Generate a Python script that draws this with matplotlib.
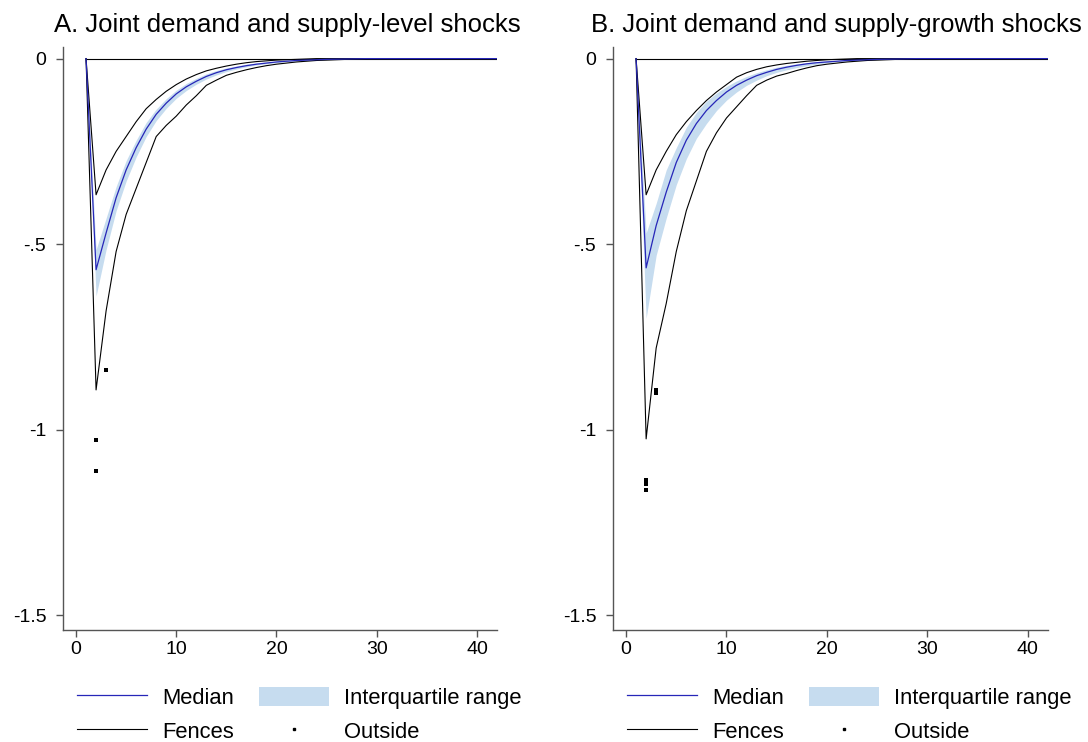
#!/usr/bin/env python3
"""Impulse responses across specifications: median, IQR band, fences and outside values."""
import numpy as np
import matplotlib.pyplot as plt
from matplotlib.patches import Patch
from matplotlib.lines import Line2D

plt.rcParams["font.family"] = ["Liberation Sans", "DejaVu Sans"]

horizon = list(range(1, 43))
zero_line = [0.0] * len(horizon)

def pad(vals):
    # responses are flat at zero after the listed horizons
    return vals + [0.0] * (len(horizon) - len(vals))

# ---- panel A: demand + supply-level shocks ----
a_median = pad([0, -0.569, -0.47, -0.375, -0.30, -0.24, -0.19, -0.15, -0.12, -0.095,
                -0.076, -0.061, -0.048, -0.038, -0.030, -0.024, -0.019, -0.015, -0.012,
                -0.009, -0.007, -0.005, -0.004, -0.003, -0.002, -0.0015, -0.001, -0.0005])
a_q75 = pad([0, -0.515, -0.43, -0.345, -0.275, -0.22, -0.172, -0.136, -0.108, -0.085,
             -0.067, -0.053, -0.041, -0.032, -0.025, -0.020, -0.015, -0.012, -0.009,
             -0.007, -0.005, -0.004, -0.003, -0.002, -0.0015, -0.001, -0.0005])
a_q25 = pad([0, -0.64, -0.515, -0.41, -0.33, -0.265, -0.21, -0.167, -0.134, -0.107,
             -0.086, -0.069, -0.055, -0.044, -0.035, -0.028, -0.022, -0.017, -0.014,
             -0.011, -0.008, -0.006, -0.005, -0.004, -0.003, -0.002, -0.001, -0.0005])
a_upper = pad([0, -0.367, -0.30, -0.25, -0.21, -0.17, -0.135, -0.11, -0.088, -0.07,
               -0.055, -0.043, -0.033, -0.026, -0.020, -0.015, -0.011, -0.008, -0.006,
               -0.004, -0.003, -0.002, -0.001])
a_lower = pad([0, -0.893, -0.68, -0.52, -0.42, -0.35, -0.28, -0.21, -0.18, -0.155,
               -0.125, -0.10, -0.072, -0.058, -0.045, -0.037, -0.030, -0.024, -0.019,
               -0.015, -0.012, -0.009, -0.007, -0.005, -0.004, -0.003, -0.002, -0.0015,
               -0.001])
a_out_h = [2, 2, 3]
a_out_v = [-1.028, -1.111, -0.839]

# ---- panel B: demand + supply-growth shocks ----
b_median = pad([0, -0.564, -0.45, -0.36, -0.28, -0.22, -0.175, -0.14, -0.113, -0.09,
                -0.072, -0.058, -0.046, -0.037, -0.029, -0.023, -0.018, -0.014, -0.011,
                -0.009, -0.007, -0.005, -0.004, -0.003, -0.002, -0.0015, -0.001, -0.0005])
b_q75 = pad([0, -0.47, -0.39, -0.30, -0.24, -0.185, -0.145, -0.115, -0.093, -0.075,
             -0.06, -0.048, -0.038, -0.030, -0.023, -0.018, -0.014, -0.011, -0.008,
             -0.006, -0.005, -0.004, -0.003, -0.002, -0.0015, -0.001, -0.0005])
b_q25 = pad([0, -0.70, -0.53, -0.43, -0.34, -0.27, -0.215, -0.175, -0.14, -0.112,
             -0.09, -0.072, -0.058, -0.046, -0.037, -0.030, -0.024, -0.019, -0.015,
             -0.011, -0.008, -0.006, -0.005, -0.004, -0.003, -0.002, -0.001, -0.0005])
b_upper = pad([0, -0.367, -0.30, -0.25, -0.205, -0.17, -0.14, -0.113, -0.09, -0.07,
               -0.05, -0.038, -0.029, -0.022, -0.017, -0.013, -0.010, -0.007, -0.005,
               -0.003, -0.002, -0.001])
b_lower = pad([0, -1.025, -0.78, -0.66, -0.52, -0.41, -0.33, -0.25, -0.20, -0.16,
               -0.13, -0.10, -0.072, -0.058, -0.047, -0.040, -0.032, -0.025, -0.019,
               -0.015, -0.012, -0.009, -0.007, -0.005, -0.004, -0.003, -0.002, -0.0015,
               -0.001])
b_out_h = [2, 2, 2, 3, 3]
b_out_v = [-1.136, -1.146, -1.163, -0.893, -0.90]

titles = ["A. Joint demand and supply-level shocks",
          "B. Joint demand and supply-growth shocks"]
yticks = [0, -0.5, -1, -1.5]
ytick_labels = ["0", "-.5", "-1", "-1.5"]
xticks = [0, 10, 20, 30, 40]

MED = "#2626b8"
IQR = "#c6dcef"
AXC = "#555555"

fig = plt.figure(figsize=(10.88, 7.42), dpi=100)
boxes = [[0.0579, 0.151, 0.3989, 0.786], [0.5634, 0.151, 0.3998, 0.786]]
title_x = [287 / 1088, 836 / 1088]

panels = [(a_median, a_q25, a_q75, a_upper, a_lower, a_out_h, a_out_v),
          (b_median, b_q25, b_q75, b_upper, b_lower, b_out_h, b_out_v)]

for i, (med, q25, q75, up, lo, oh, ov) in enumerate(panels):
    ax = fig.add_axes(boxes[i])
    ax.fill_between(horizon, q25, q75, color=IQR, lw=0, zorder=1)
    ax.plot(horizon, zero_line, color="black", lw=0.8, zorder=2)
    ax.plot(horizon, up, color="black", lw=0.8, zorder=2)
    ax.plot(horizon, lo, color="black", lw=0.8, zorder=2)
    ax.plot(horizon, med, color=MED, lw=0.9, zorder=3)
    ax.scatter(oh, ov, s=5, marker="s", color="black", lw=0, zorder=4)

    ax.set_xlim(-1.3, 42)
    ax.set_ylim(-1.54, 0.032)
    ax.set_yticks(yticks)
    ax.set_yticklabels(ytick_labels)
    ax.set_xticks(xticks)
    for s in ["top", "right"]:
        ax.spines[s].set_visible(False)
    for s in ["left", "bottom"]:
        ax.spines[s].set_color(AXC)
        ax.spines[s].set_linewidth(1.0)
    ax.tick_params(colors=AXC, labelcolor="black", labelsize=14, length=5, width=1.0)
    ax.tick_params(axis="y", pad=7)
    ax.tick_params(axis="x", pad=3)

    fig.text(title_x[i], 1 - 25 / 742, titles[i], ha="center", va="center", fontsize=18.5)

    handles = [Line2D([], [], color=MED, lw=0.9),
               Line2D([], [], color="black", lw=0.8),
               Patch(facecolor=IQR, edgecolor="none"),
               Line2D([], [], ls="none", marker="s", ms=2, color="black")]
    labels = ["Median", "Fences", "Interquartile range", "Outside"]
    ax.legend(handles, labels, ncol=2, loc="upper left", frameon=False,
              bbox_to_anchor=(0.032, -0.097), borderaxespad=0, borderpad=0,
              fontsize=15.8, handlelength=3.2, handleheight=1.0,
              handletextpad=0.68, columnspacing=1.14, labelspacing=0.54)

fig.savefig("out.png", dpi=100)
